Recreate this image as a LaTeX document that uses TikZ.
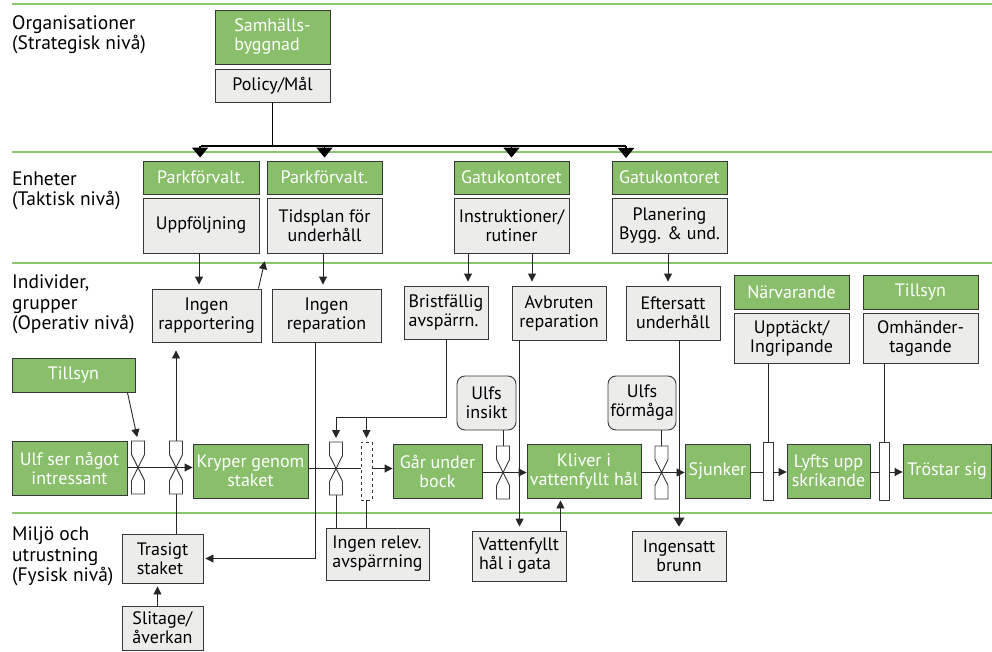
\documentclass[tikz,border=0pt]{standalone}
\usepackage{fontspec}
\setmainfont{PT Sans}
\usetikzlibrary{arrows.meta}
\definecolor{boxgreen}{RGB}{137,191,106}
\definecolor{linegreen}{RGB}{140,198,112}
\definecolor{boxgray}{RGB}{236,237,235}
\definecolor{edgec}{RGB}{55,55,55}
\newcommand\mylvlfont{\fontsize{19.5}{20.5}\selectfont}
\newcommand\mybxfont{\fontsize{18}{19}\selectfont}
\newcommand\mybox[8]{%
  \pgfmathsetmacro\mybw{#5-#3}\pgfmathsetmacro\mybh{#6-#4}%
  \pgfmathsetmacro\mybcx{(#3+#5)/2}\pgfmathsetmacro\mybcy{(#4+#6)/2}%
  \node[#1, minimum width=\mybw pt, minimum height=\mybh pt, #8] (#2) at (\mybcx,\mybcy) {#7};}
\tikzset{
  gbox/.style={draw=edgec, fill=boxgreen, text=white, line width=0.9pt, inner sep=0pt, align=center, font=\mybxfont},
  wbox/.style={draw=edgec, fill=boxgray, text=black, line width=0.9pt, inner sep=0pt, align=center, font=\mybxfont},
  lvl/.style={anchor=north west, align=left, inner sep=0pt, font=\mylvlfont},
  sepline/.style={draw=linegreen, line width=2pt},
  conn/.style={draw=black!85, line width=0.9pt},
  arr/.style={conn, -{Triangle[length=8pt,width=8pt]}},
  bigarr/.style={draw=black, line width=1.8pt, -{Triangle[length=10pt,width=16pt]}},
  busline/.style={draw=black, line width=1.8pt},
  bnode/.style={minimum width=12pt, minimum height=53pt, inner sep=0pt, outer sep=0pt},
  rbar/.style={draw=edgec, fill=white, line width=0.9pt, minimum width=10pt, minimum height=58pt, inner sep=0pt, outer sep=0pt},
  dbar/.style={draw=edgec, fill=white, line width=0.9pt, dashed, minimum width=11pt, minimum height=58pt, inner sep=0pt, outer sep=0pt},
  hglass/.pic={
    \draw[edgec, fill=white, line width=0.9pt] (-6.5,-26.5) -- (6.5,-26.5) -- (6.5,-13) -- (0,0) -- (-6.5,-13) -- cycle;
    \draw[edgec, fill=white, line width=0.9pt] (-6.5,26.5) -- (6.5,26.5) -- (6.5,13) -- (0,0) -- (-6.5,13) -- cycle;
  }
}
\begin{document}
\begin{tikzpicture}[x=1pt,y=-1pt]
\useasboundingbox (0,0) rectangle (992,652);
\fill[white] (0,0) rectangle (992,652);
% separators
\draw[sepline] (12,4) -- (992,4);
\draw[sepline] (12,152.5) -- (992,152.5);
\draw[sepline] (12,262.5) -- (992,262.5);
\draw[sepline] (12,512.5) -- (992,512.5);
% level labels
\node[lvl] (l1) at (12,15) {Organisationer\\(Strategisk nivå)};
\node[lvl] (l2) at (12,171.5) {Enheter\\(Taktisk nivå)};
\node[lvl] (l3) at (12,274.5) {Individer,\\grupper\\(Operativ nivå)};
\node[lvl] (l4) at (12,526.5) {Miljö och\\utrustning\\(Fysisk nivå)};
% strategic
\mybox{gbox}{samh}{215}{10}{330}{64}{Samhälls-\\byggnad}{align=left}
\mybox{wbox}{policy}{215}{69}{330}{102}{Policy/Mål}{}
% tactical
\mybox{gbox}{park1}{143}{161}{259}{194}{Parkförvalt.}{}
\mybox{wbox}{uppf}{143}{198}{259}{253}{Uppföljning}{}
\mybox{gbox}{park2}{267}{161}{382}{194}{Parkförvalt.}{}
\mybox{wbox}{tids}{267}{198}{382}{253}{Tidsplan för\\underhåll}{}
\mybox{gbox}{gatu1}{454}{161}{569}{194}{Gatukontoret}{}
\mybox{wbox}{instr}{454}{198}{569}{253}{Instruktioner/\\rutiner}{}
\mybox{gbox}{gatu2}{612}{161}{727}{194}{Gatukontoret}{}
\mybox{wbox}{plan}{612}{198}{727}{253}{Planering\\Bygg. \& und.}{}
% operative
\mybox{wbox}{rapp}{152}{289}{261}{342}{Ingen\\rapportering}{}
\mybox{wbox}{repa}{272}{289}{381}{342}{Ingen\\reparation}{}
\mybox{wbox}{brist}{404}{286}{488}{339}{Bristfällig\\avspärrn.}{align=left}
\mybox{wbox}{avb}{512}{286}{606}{340}{Avbruten\\reparation}{}
\mybox{wbox}{eft}{626}{286}{720}{340}{Eftersatt\\underhåll}{}
\mybox{gbox}{narv}{734}{275}{849}{309}{Närvarande}{}
\mybox{wbox}{uppt}{734}{313}{849}{363}{Upptäckt/\\Ingripande}{}
\mybox{gbox}{tills2}{863}{275}{978}{309}{Tillsyn}{}
\mybox{wbox}{omh}{863}{313}{978}{363}{Omhänder-\\tagande}{}
\mybox{gbox}{tills1}{12}{358}{135}{392}{Tillsyn}{}
\mybox{wbox}{insikt}{457}{376}{516}{430}{Ulfs\\insikt}{rounded corners=8pt}
\mybox{wbox}{form}{608}{376}{676}{430}{Ulfs\\förmåga}{rounded corners=8pt}
% main flow
\mybox{gbox}{ulf}{12}{441}{127}{495}{Ulf ser något\\intressant}{}
\mybox{gbox}{kryp}{193}{444}{308}{498}{Kryper genom\\staket}{}
\mybox{gbox}{gar}{393}{444}{482}{498}{Går under\\bock}{}
\mybox{gbox}{kliv}{527}{444}{641}{498}{Kliver i\\vattenfyllt hål}{}
\mybox{gbox}{sjunk}{685}{444}{750}{498}{Sjunker}{}
\mybox{gbox}{lyfts}{787}{444}{870}{498}{Lyfts upp\\skrikande}{}
\mybox{gbox}{trost}{903}{444}{991}{498}{Tröstar sig}{}
% physical
\mybox{wbox}{trasig}{122}{534}{203}{583}{Trasigt\\staket}{align=left}
\mybox{wbox}{slit}{122}{606}{203}{650}{Slitage/\\åverkan}{align=left}
\mybox{wbox}{relev}{326}{528}{429}{580}{Ingen relev.\\avspärrning}{align=left}
\mybox{wbox}{vatt}{472}{531}{566}{581}{Vattenfyllt\\hål i gata}{align=left}
\mybox{wbox}{ings}{632}{531}{726}{581}{Ingensatt\\brunn}{}
% barrier anchors
\node[bnode] (b1) at (138,467.5) {};
\node[bnode] (b2) at (176,467.5) {};
\node[bnode] (b3) at (336,468.5) {};
\node[bnode] (b5) at (503,472.5) {};
\node[bnode] (b6) at (661.5,472.5) {};
% bus from policy
\coordinate (bus) at (0,146);
\coordinate (g2in) at (626,161);
\draw[busline] (policy.south) -- (policy.south |- bus);
\draw[busline] (park1.north |- bus) -- (g2in |- bus);
\draw[bigarr, shorten >=3pt] ([xshift=-0.9pt]park1.north |- bus) -- ([xshift=-0.9pt]park1.north);
\draw[bigarr, shorten >=3pt] (park2.north |- bus) -- (park2.north);
\draw[bigarr, shorten >=3pt] (gatu1.north |- bus) -- (gatu1.north);
\draw[bigarr, shorten >=3pt] (g2in |- bus) -- (g2in);
% tactical -> operative
\coordinate (uo) at (199,253);
\draw[arr, shorten >=4pt] (uo) -- (uo |- rapp.north);
\draw[arr, shorten >=8pt] ([xshift=-3pt]rapp.north east) -- (tids.south west);
\coordinate (to) at (323,253);
\draw[arr, shorten >=4pt] (to) -- (to |- repa.north);
\coordinate (io1) at (468,253);
\draw[arr, shorten >=4pt] (io1) -- (io1 |- brist.north);
\coordinate (io2) at (532,253);
\draw[arr, shorten >=4pt] (io2) -- (io2 |- avb.north);
\coordinate (po) at (668,253);
\draw[arr, shorten >=4pt] (po) -- (po |- eft.north);
% main flow line
\draw[arr] (ulf.east |- b1) -- (kryp.west |- b1);
\node[dbar] (b4) at (366.5,471) {};
\node[rbar] (b7) at (768,471) {};
\node[rbar] (b8) at (884,471) {};
\draw[conn] (kryp.east |- b3) -- (b4.west |- b3);
\draw[arr] (b4.east |- b3) -- (gar.west |- b3);
\draw[arr] (gar.east |- b5) -- (kliv.west |- b5);
\draw[arr] (kliv.east |- b6) -- (sjunk.west |- b6);
\draw[conn] (sjunk.east |- 0,472) -- (b7.west |- 0,472);
\draw[arr] (b7.east |- 0,472) -- (lyfts.west |- 0,472);
\draw[conn] (lyfts.east |- 0,472) -- (b8.west |- 0,472);
\draw[arr] (b8.east |- 0,472) -- (trost.west |- 0,472);
% influences on barriers
\draw[arr, shorten >=4pt] ([xshift=-8pt]tills1.south east) -- (b1.north);
\draw[arr, shorten >=8pt] (b2.north) -- (b2.north |- rapp.south);
\draw[conn] (b2.south) -- (b2.south |- trasig.north);
\coordinate (kink) at (0,417);
\draw[arr, shorten >=4pt] (brist.south) -- (brist.south |- kink) -- (b3.north |- kink) -- (b3.north);
\draw[arr, shorten >=4pt] (b4.north |- kink) -- (b4.north);
\draw[conn] (b3.south) -- (b3.south |- relev.north);
\draw[conn] (b4.south) -- (b4.south |- relev.north);
\coordinate (repout) at ([xshift=44pt]repa.south west);
\draw[arr, shorten >=2pt] (repout) -- (repout |- trasig.east) -- (trasig.east);
\draw[arr, shorten >=3pt] ([xshift=-5pt]slit.north) -- ([xshift=-5pt]trasig.south);
\draw[conn] (b5.north |- insikt.south) -- (b5.north);
\draw[conn] (b6.north |- form.south) -- (b6.north);
\coordinate (avout) at ([xshift=8pt]avb.south west);
\draw[arr, shorten >=4pt] (avout) -- (avout |- vatt.north);
\coordinate (vout) at ([xshift=-6pt]vatt.north east);
\draw[arr, shorten >=2pt] (vout) -- (vout |- kliv.south);
\draw[conn, -{Triangle[length=9pt,width=11pt]}, shorten >=4pt] (ings.north |- eft.south) -- (ings.north);
\draw[conn] (b7.north |- uppt.south) -- (b7.north);
\draw[conn] (b8.north |- omh.south) -- (b8.north);
% barrier glyphs
\pic at (b1) {hglass};
\pic at (b2) {hglass};
\pic at (b3) {hglass};
\pic at (b5) {hglass};
\pic at (b6) {hglass};
\end{tikzpicture}
\end{document}
